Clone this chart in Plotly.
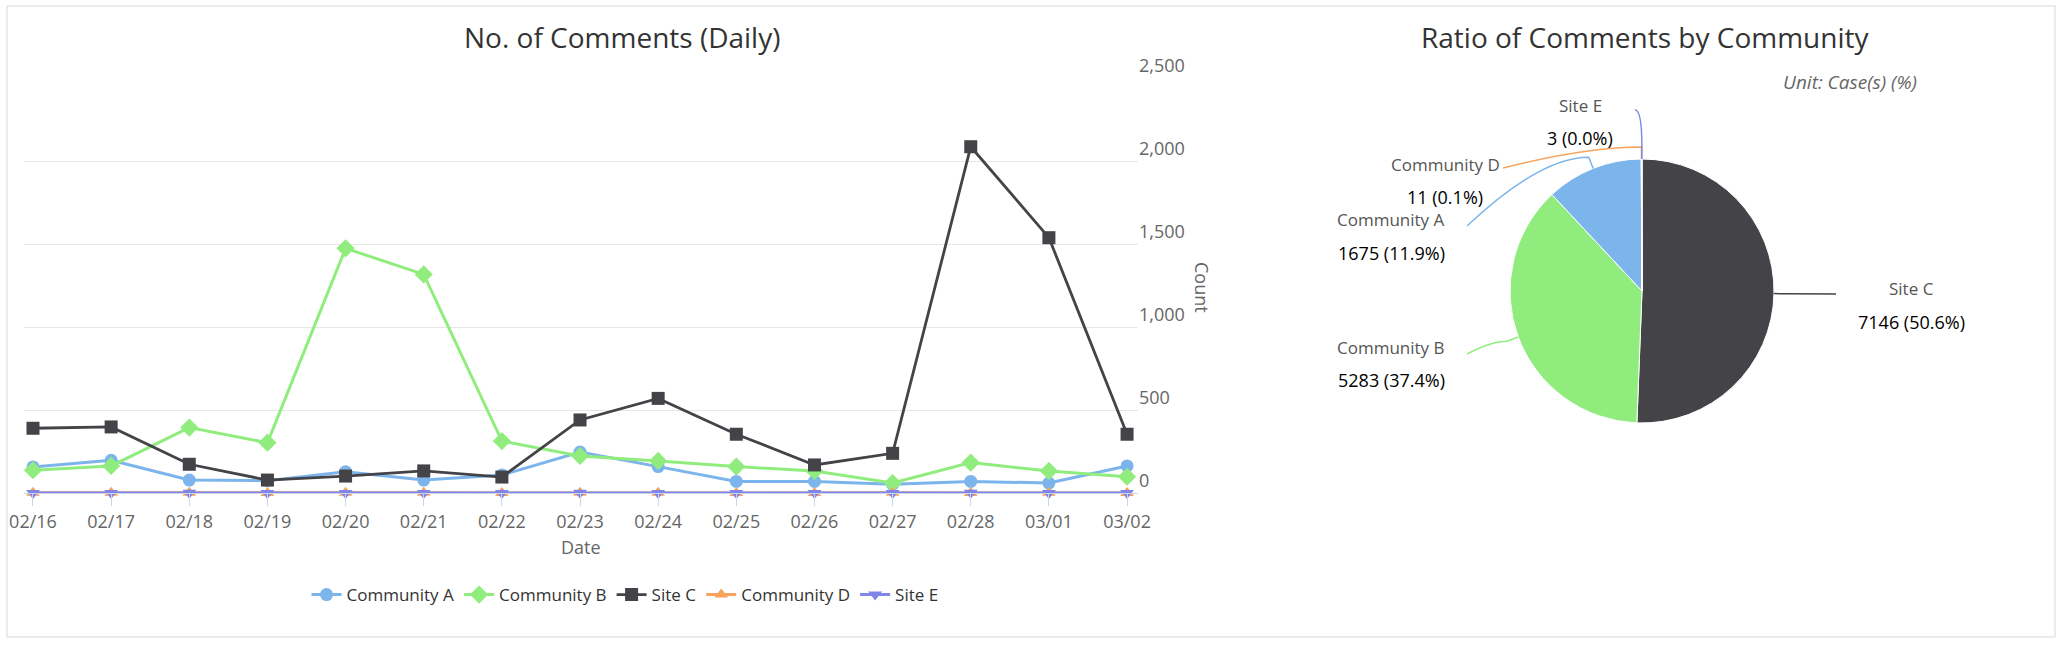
import math
import plotly.graph_objects as go

W, H = 2062, 645
FONT = "Open Sans"

# ---------------- data ----------------
dates = ["02/16", "02/17", "02/18", "02/19", "02/20", "02/21", "02/22", "02/23",
         "02/24", "02/25", "02/26", "02/27", "02/28", "03/01", "03/02"]

series_names = ["Community A", "Community B", "Site C", "Community D", "Site E"]

blue_vals = [157, 197, 78, 74, 128, 78, 108, 247, 159, 70, 70, 52, 70, 60, 163]
green_vals = [137, 163, 394, 303, 1474, 1317, 313, 223, 193, 159, 133, 60, 183, 133, 98]
dark_vals = [390, 398, 173, 78, 102, 133, 96, 440, 570, 354, 169, 239, 2086, 1538, 354]
orange_vals = [1, 2, 1, 0, 1, 2, 0, 1, 1, 0, 0, 1, 0, 1, 0]
purple_vals = [0, 0, 1, 0, 0, 0, 0, 1, 0, 0, 0, 0, 1, 0, 0]

y_ticks = [0, 500, 1000, 1500, 2000, 2500]

# pie (clockwise from 12 o'clock)
pie_names = ["Site C", "Community B", "Community A", "Community D", "Site E"]
pie_values = [7146, 5283, 1675, 11, 3]

# ---------------- style ----------------
colors = {"Community A": "#7cb5ec", "Community B": "#90ed7d", "Site C": "#434348",
          "Community D": "#f7a35c", "Site E": "#8085e9"}
symbols = {"Community A": "circle", "Community B": "diamond", "Site C": "square",
           "Community D": "triangle-up", "Site E": "triangle-down"}
msize = {"Community A": 13, "Community B": 14, "Site C": 13,
         "Community D": 12, "Site E": 12}


def px(x):
    return x / W


def py(y):
    return 1 - y / H


fig = go.Figure()

for name, vals in zip(series_names, [blue_vals, green_vals, dark_vals, orange_vals, purple_vals]):
    fig.add_trace(go.Scatter(
        x=dates, y=vals, name=name, mode="lines+markers",
        line=dict(color=colors[name], width=3 if name != "Site C" else 2.8),
        marker=dict(symbol=symbols[name], size=msize[name], color=colors[name]),
        cliponaxis=False, xaxis="x", yaxis="y",
    ))

# pie geometry (pixels)
PCX, PCY, PR = 1642, 291, 132
fig.add_trace(go.Pie(
    labels=pie_names, values=pie_values, sort=False, direction="clockwise", rotation=0,
    marker=dict(colors=[colors[n] for n in pie_names], line=dict(color="white", width=1)),
    textinfo="none", showlegend=False,
    domain=dict(x=[px(PCX - PR), px(PCX + PR)], y=[py(PCY + PR), py(PCY - PR)]),
))

annotations = []
shapes = []


def ann(text, x, y, size, color="#333333", **kw):
    d = dict(text=text, x=px(x), y=py(y), xref="paper", yref="paper", showarrow=False,
             xanchor="center", yanchor="middle", font=dict(size=size, color=color, family=FONT))
    d.update(kw)
    annotations.append(d)


ann("No. of Comments (Daily)", 622, 37, 28)
ann("Ratio of Comments by Community", 1645, 37, 28)
ann("<i>Unit: Case(s) (%)</i>", 1850, 82, 19, "#666666")
ann("Date", 581, 547, 18, "#666666")
ann("Count", 1202, 287, 18, "#666666", textangle=90)

# pie labels and connectors
total = sum(pie_values)
# label layout: (label center x, value-line y, connector start x, y)
label_layout = [
    (1911, 322, 1836, 294),
    (1391, 380, 1467, 354),
    (1391, 253, 1467, 226),
    (1445, 197, 1503, 168),
    (1580, 138, 1635, 110),
]
cum = 0
for name, v, (lx, ly, sx, sy) in zip(pie_names, pie_values, label_layout):
    frac_mid = (cum + v / 2) / total
    cum += v
    theta = 2 * math.pi * frac_mid
    ex, ey = PCX + PR * math.sin(theta), PCY - PR * math.cos(theta)
    kx, ky = PCX + (PR + 12) * math.sin(theta), PCY - (PR + 12) * math.cos(theta)
    if abs(ky - sy) < 3:
        cx_, cy_ = (sx + kx) / 2, (sy + ky) / 2
    elif sy < ky:
        cx_, cy_ = kx, sy
    else:
        cx_, cy_ = sx + 0.6 * (kx - sx), ky
    path = (f"M {px(sx)},{py(sy)} Q {px(cx_)},{py(cy_)} {px(kx)},{py(ky)} "
            f"L {px(ex)},{py(ey)}")
    shapes.append(dict(type="path", path=path, xref="paper", yref="paper",
                       line=dict(color=colors[name], width=1.5)))
    pct = v / total * 100
    ann(name, lx, ly - 33, 17, "#555555")
    ann(f"{v} ({pct:.1f}%)", lx, ly, 18, "#000000")

# outer border
shapes.append(dict(type="rect", xref="paper", yref="paper", x0=px(7), x1=px(2055),
                   y0=py(637), y1=py(6), line=dict(color="#e6e6e6", width=1.5),
                   fillcolor="rgba(0,0,0,0)", layer="below"))

fig.update_layout(
    width=W, height=H, autosize=False,
    margin=dict(l=0, r=0, t=0, b=0, pad=0),
    paper_bgcolor="white", plot_bgcolor="white",
    font=dict(family=FONT, color="#333333"),
    xaxis=dict(domain=[px(24), px(1138)], type="category", range=[-0.115, 14.14],
               showline=True, linecolor="#ccd6eb", linewidth=1,
               ticks="outside", ticklen=12, tickcolor="#ccd6eb",
               showgrid=False, zeroline=False, automargin=False,
               tickfont=dict(size=18, color="#666666", family=FONT), anchor="y"),
    yaxis=dict(domain=[py(493), py(78)], range=[0, 2500], side="right",
               tickvals=y_ticks, tickformat=",", showgrid=True, gridcolor="#e6e6e6",
               gridwidth=1, zeroline=False, showline=False, ticks="",
               ticklabelposition="outside top", automargin=False,
               tickfont=dict(size=18, color="#666666", family=FONT), anchor="x"),
    legend=dict(orientation="h", xanchor="center", x=px(625), yanchor="middle", y=py(595),
                font=dict(size=17, color="#333333", family=FONT), bgcolor="rgba(0,0,0,0)"),
    annotations=annotations,
    shapes=shapes,
)

fig.write_html("out.html")
